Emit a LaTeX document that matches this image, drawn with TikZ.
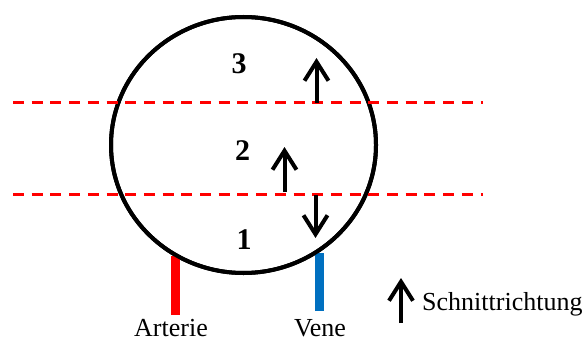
\documentclass[tikz,border=0pt]{standalone}
\usepackage{fontspec}
\setmainfont{Liberation Serif}
\usetikzlibrary{arrows.meta,shapes.geometric}
\definecolor{cutred}{HTML}{FF0000}
\definecolor{veinblue}{HTML}{0070C0}
\tikzset{organ/.style={ellipse,draw=black,line width=4pt,minimum width=265pt,
 minimum height=256pt,inner sep=0pt},
 cutline/.style={draw=cutred,line width=3pt,dash pattern=on 11pt off 7.7pt},
 direction/.style={draw=black,line width=4pt,-{Straight Barb[length=19pt,width=24pt]}},
 zone/.style={font=\fontsize{30}{36}\selectfont\bfseries,inner sep=0pt},
 vessel/.style={line width=9pt},
 caption/.style={font=\fontsize{26}{31}\selectfont,inner sep=0pt}}

\begin{document}
\begin{tikzpicture}[x=1pt,y=-1pt]
 \useasboundingbox (0,0) rectangle (588,342);
 \node[caption,anchor=base] (art) at (171,336.5) {Arterie};
 \node[caption,anchor=base] (vene) at (320,336.5) {Vene};
 \node[organ] (body) at (243.5,145) {};
 \coordinate (artend) at (175.5,315);
 \coordinate (veneend) at (319.5,311);
 \draw[vessel,cutred] (artend) -- (body.238.7 -| artend);
 \draw[vessel,veinblue] (veneend) -- (body.305.5 -| veneend);
 \node[organ] at (243.5,145) {};
 \coordinate (cutAl) at (13,103);
 \coordinate (cutAr) at (483,103);
 \coordinate (cutBl) at (13,194);
 \coordinate (cutBr) at (483,194);
 \draw[cutline] (cutAl) -- (cutAr);
 \draw[cutline] (cutBl) -- (cutBr);
 \node[zone] (z3) at (239,64) {3};
 \node[zone] (z2) at (242.5,151) {2};
 \node[zone] (z1) at (244,240) {1};
 \coordinate (a3s) at (316.5,103);
 \coordinate (a3e) at (316.5,58);
 \coordinate (a2s) at (284.5,192);
 \coordinate (a2e) at (284.5,147);
 \coordinate (a1s) at (315.5,195);
 \coordinate (a1e) at (315.5,238);
 \draw[direction] (a3s) -- (a3e);
 \draw[direction] (a2s) -- (a2e);
 \draw[direction] (a1s) -- (a1e);
 \node[caption,anchor=base west] (legend) at (422,310) {Schnittrichtung};
 \coordinate (keys) at (401,323);
 \coordinate (keye) at (401,278);
 \draw[direction] (keys) -- (keye);
\end{tikzpicture}
\end{document}
